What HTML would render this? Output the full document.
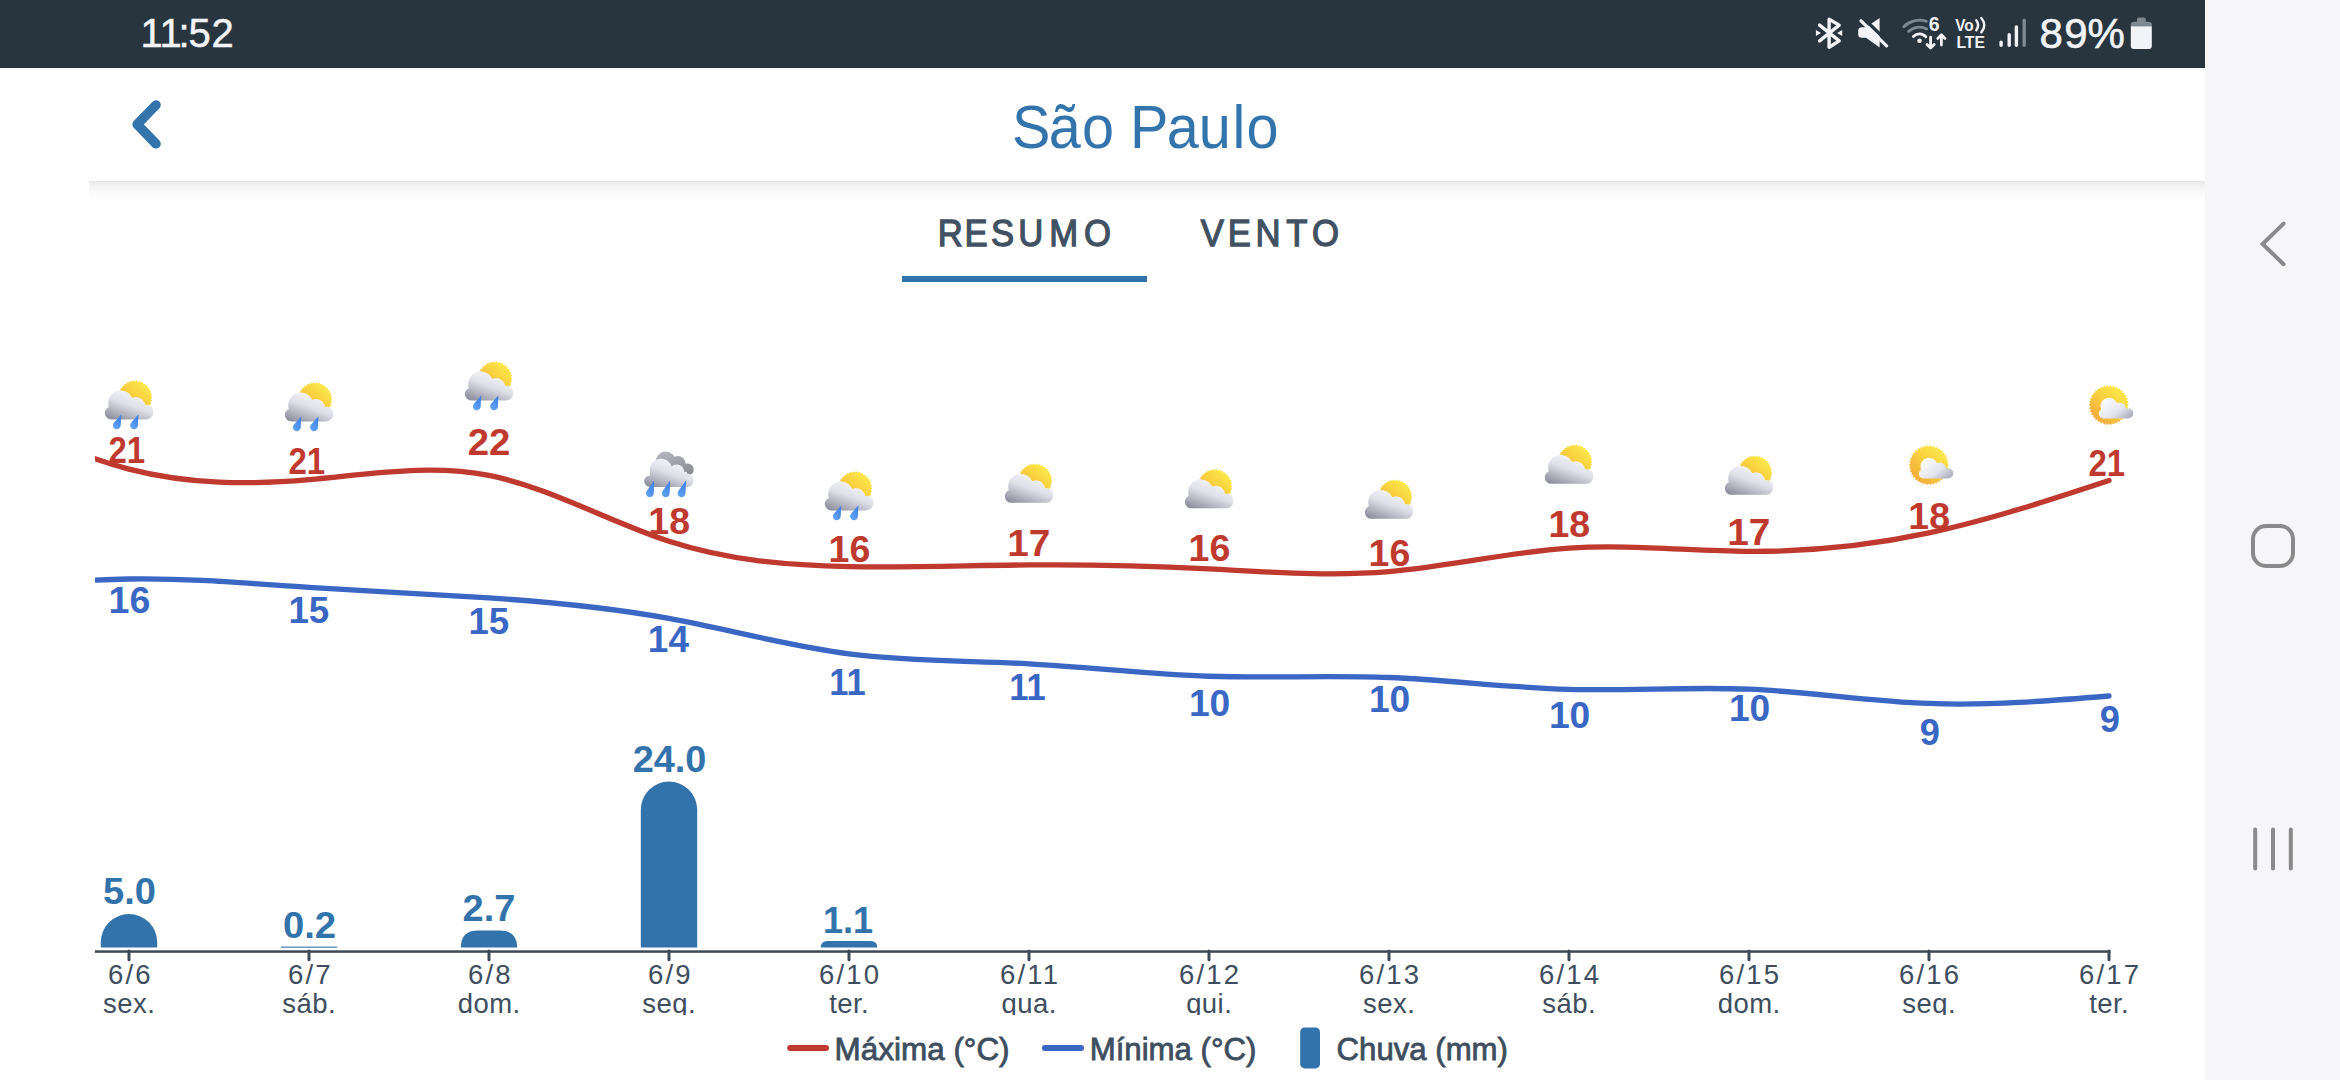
<!DOCTYPE html>
<html lang="pt-BR">
<head>
<meta charset="utf-8">
<title>São Paulo</title>
<style>
html,body{margin:0;padding:0;background:#fff;}
body{width:2340px;height:1080px;position:relative;overflow:hidden;font-family:'Liberation Sans', Arial, sans-serif;}
.status{position:absolute;left:0;top:0;width:2205px;height:68px;background:#28353f;}
.nav{position:absolute;left:2205px;top:0;width:135px;height:1080px;background:#f6f6f8;}
.header{position:absolute;left:0;top:68px;width:2205px;height:113px;background:#fff;}
.shadow{position:absolute;left:89px;top:181px;width:2116px;height:19px;background:linear-gradient(to bottom,#e4e4e4 0px,#ececec 2px,#f3f3f3 5px,#f9f9f9 10px,#ffffff 19px);}
svg.ov{position:absolute;left:0;top:0;}
svg text{font-family:'Liberation Sans', Arial, sans-serif;}
</style>
</head>
<body>
<div class="status"></div>
<div class="nav"></div>
<div class="header"></div>
<div class="shadow"></div>

<svg class="ov" width="2340" height="1080" viewBox="0 0 2340 1080">
<defs>
<linearGradient id="gSun" x1="0.8" y1="0.1" x2="0.15" y2="0.9"><stop offset="0" stop-color="#fbe94a"/><stop offset="0.45" stop-color="#f8cf3e"/><stop offset="1" stop-color="#f3a83a"/></linearGradient>
<linearGradient id="gCloud" x1="0.75" y1="0.1" x2="0.2" y2="1"><stop offset="0" stop-color="#f7f7fb"/><stop offset="0.45" stop-color="#dedfe8"/><stop offset="1" stop-color="#8f919f"/></linearGradient>
<linearGradient id="gCloudS" x1="0.1" y1="0.2" x2="1" y2="0.9"><stop offset="0" stop-color="#fbfbfe"/><stop offset="0.55" stop-color="#e4e5f0"/><stop offset="1" stop-color="#a6a9b6"/></linearGradient>
<linearGradient id="gDark" x1="0.2" y1="0" x2="0.9" y2="1"><stop offset="0" stop-color="#b4b5bf"/><stop offset="1" stop-color="#85878f"/></linearGradient>
<linearGradient id="gDrop" x1="0.8" y1="0" x2="0.2" y2="1"><stop offset="0" stop-color="#3c7de6"/><stop offset="1" stop-color="#62a4f4"/></linearGradient>
<clipPath id="clipChart"><rect x="95" y="300" width="2040" height="660"/></clipPath>

<g id="icA"><polygon points="53.30,22.50 51.93,23.98 53.01,25.68 51.39,26.88 52.13,28.75 50.32,29.63 50.71,31.61 48.77,32.14 48.78,34.15 46.78,34.32 46.43,36.31 44.42,36.10 43.71,37.99 41.78,37.42 40.73,39.14 38.94,38.23 37.60,39.73 36.00,38.50 34.40,39.73 33.06,38.23 31.27,39.14 30.22,37.42 28.29,37.99 27.58,36.10 25.57,36.31 25.22,34.32 23.22,34.15 23.23,32.14 21.29,31.61 21.68,29.63 19.87,28.75 20.61,26.88 18.99,25.68 20.07,23.98 18.70,22.50 20.07,21.02 18.99,19.32 20.61,18.12 19.87,16.25 21.68,15.37 21.29,13.39 23.23,12.86 23.22,10.85 25.22,10.68 25.57,8.69 27.58,8.90 28.29,7.01 30.22,7.58 31.27,5.86 33.06,6.77 34.40,5.27 36.00,6.50 37.60,5.27 38.94,6.77 40.73,5.86 41.78,7.58 43.71,7.01 44.42,8.90 46.43,8.69 46.78,10.68 48.78,10.85 48.77,12.86 50.71,13.39 50.32,15.37 52.13,16.25 51.39,18.12 53.01,19.32 51.93,21.02" fill="url(#gSun)"/><path d="M9.20,28.20 a12.60,12.60 0 1,1 25.20,0 a12.60,12.60 0 1,1 -25.20,0 Z M27.80,31.20 a9.20,9.20 0 1,1 18.40,0 a9.20,9.20 0 1,1 -18.40,0 Z M39.60,37.10 a7.40,7.40 0 1,1 14.80,0 a7.40,7.40 0 1,1 -14.80,0 Z M5.80,38.00 a6.50,6.50 0 1,1 13.00,0 a6.50,6.50 0 1,1 -13.00,0 Z M12.30,30.20 H47.00 V44.50 H12.30 Z " fill="url(#gCloud)"/><path d="M22.20,39.50 L14.89,47.71 A3.90,3.90 0 1,0 21.70,50.48 Z" fill="url(#gDrop)"/><path d="M39.40,39.20 L32.04,47.76 A3.90,3.90 0 1,0 38.90,50.47 Z" fill="url(#gDrop)"/></g>
<g id="icC"><polygon points="53.30,25.70 51.93,27.18 53.01,28.88 51.39,30.08 52.13,31.95 50.32,32.83 50.71,34.81 48.77,35.34 48.78,37.35 46.78,37.52 46.43,39.51 44.42,39.30 43.71,41.19 41.78,40.62 40.73,42.34 38.94,41.43 37.60,42.93 36.00,41.70 34.40,42.93 33.06,41.43 31.27,42.34 30.22,40.62 28.29,41.19 27.58,39.30 25.57,39.51 25.22,37.52 23.22,37.35 23.23,35.34 21.29,34.81 21.68,32.83 19.87,31.95 20.61,30.08 18.99,28.88 20.07,27.18 18.70,25.70 20.07,24.22 18.99,22.52 20.61,21.32 19.87,19.45 21.68,18.57 21.29,16.59 23.23,16.06 23.22,14.05 25.22,13.88 25.57,11.89 27.58,12.10 28.29,10.21 30.22,10.78 31.27,9.06 33.06,9.97 34.40,8.47 36.00,9.70 37.60,8.47 38.94,9.97 40.73,9.06 41.78,10.78 43.71,10.21 44.42,12.10 46.43,11.89 46.78,13.88 48.78,14.05 48.77,16.06 50.71,16.59 50.32,18.57 52.13,19.45 51.39,21.32 53.01,22.52 51.93,24.22" fill="url(#gSun)"/><path d="M9.20,31.50 a12.60,12.60 0 1,1 25.20,0 a12.60,12.60 0 1,1 -25.20,0 Z M27.80,34.50 a9.20,9.20 0 1,1 18.40,0 a9.20,9.20 0 1,1 -18.40,0 Z M39.60,40.40 a7.40,7.40 0 1,1 14.80,0 a7.40,7.40 0 1,1 -14.80,0 Z M5.80,41.30 a6.50,6.50 0 1,1 13.00,0 a6.50,6.50 0 1,1 -13.00,0 Z M12.30,33.50 H47.00 V47.80 H12.30 Z " fill="url(#gCloud)"/></g>
<g id="icB"><path d="M16.70,16.50 a10.00,10.00 0 1,1 20.00,0 a10.00,10.00 0 1,1 -20.00,0 Z M31.50,18.50 a7.50,7.50 0 1,1 15.00,0 a7.50,7.50 0 1,1 -15.00,0 Z M42.70,24.50 a6.00,6.00 0 1,1 12.00,0 a6.00,6.00 0 1,1 -12.00,0 Z M26.70,18.50 H48.70 V34.00 H26.70 Z " fill="url(#gDark)"/><path d="M10.80,25.00 a11.20,11.20 0 1,1 22.40,0 a11.20,11.20 0 1,1 -22.40,0 Z M30.20,27.00 a7.60,7.60 0 1,1 15.20,0 a7.60,7.60 0 1,1 -15.20,0 Z M41.30,35.30 a6.70,6.70 0 1,1 13.40,0 a6.70,6.70 0 1,1 -13.40,0 Z M5.20,36.20 a5.80,5.80 0 1,1 11.60,0 a5.80,5.80 0 1,1 -11.60,0 Z M11.00,27.00 H48.00 V42.00 H11.00 Z " fill="url(#gCloud)"/><path d="M15.20,35.50 L7.63,46.02 A3.90,3.90 0 1,0 14.70,48.45 Z" fill="url(#gDrop)"/><path d="M31.20,35.50 L23.55,46.00 A3.90,3.90 0 1,0 30.60,48.48 Z" fill="url(#gDrop)"/><path d="M47.20,35.00 L39.33,46.03 A3.90,3.90 0 1,0 46.39,48.53 Z" fill="url(#gDrop)"/></g>
<g id="icD"><polygon points="48.00,30.10 46.24,31.62 47.73,33.41 45.74,34.62 46.91,36.63 44.75,37.49 45.58,39.67 43.30,40.16 43.76,42.45 41.44,42.56 41.51,44.89 39.20,44.62 38.89,46.93 36.66,46.28 35.97,48.51 33.87,47.50 32.83,49.58 30.93,48.25 29.56,50.13 27.90,48.50 26.24,50.13 24.87,48.25 22.97,49.58 21.93,47.50 19.83,48.51 19.14,46.28 16.91,46.93 16.60,44.62 14.29,44.89 14.36,42.56 12.04,42.45 12.50,40.16 10.22,39.67 11.05,37.49 8.89,36.63 10.06,34.62 8.07,33.41 9.56,31.62 7.80,30.10 9.56,28.58 8.07,26.79 10.06,25.58 8.89,23.57 11.05,22.71 10.22,20.53 12.50,20.04 12.04,17.75 14.36,17.64 14.29,15.31 16.60,15.58 16.91,13.27 19.14,13.92 19.83,11.69 21.93,12.70 22.97,10.62 24.87,11.95 26.24,10.07 27.90,11.70 29.56,10.07 30.93,11.95 32.83,10.62 33.87,12.70 35.97,11.69 36.66,13.92 38.89,13.27 39.20,15.58 41.51,15.31 41.44,17.64 43.76,17.75 43.30,20.04 45.58,20.53 44.75,22.71 46.91,23.57 45.74,25.58 47.73,26.79 46.24,28.58" fill="url(#gSun)"/><path d="M19.40,31.30 a8.60,8.60 0 1,1 17.20,0 a8.60,8.60 0 1,1 -17.20,0 Z M31.90,34.00 a6.60,6.60 0 1,1 13.20,0 a6.60,6.60 0 1,1 -13.20,0 Z M42.30,38.30 a5.00,5.00 0 1,1 10.00,0 a5.00,5.00 0 1,1 -10.00,0 Z M17.80,38.80 a4.70,4.70 0 1,1 9.40,0 a4.70,4.70 0 1,1 -9.40,0 Z M22.50,33.30 H47.30 V43.50 H22.50 Z " fill="url(#gCloudS)"/></g>
</defs>
<g id="statusbar" fill="#f1f3f7">
<text id="tTime" x="140.6 159.4 178.4 188.6 211.4" y="47.2" font-size="40" stroke="#f1f3f7" stroke-width="0.5">11:52</text>
<g stroke="#f1f3f7" stroke-width="3.4" fill="none" stroke-linecap="round" stroke-linejoin="round"><path d="M1819.6,25.1 L1839.2,40.9 L1829.1,47.2 L1829.1,19.2 L1839.2,25.1 L1819.6,40.9"/></g>
<path d="M1815.9,29.9 L1821,33 L1815.9,36.1 Z M1842.2,29.9 L1837.1,33 L1842.2,36.1 Z"/>
<path d="M1861.7,27.2 H1866 L1879.6,18 V47.4 L1866,37.8 H1861.7 Q1858.2,37.8 1858.2,34.3 V30.7 Q1858.2,27.2 1861.7,27.2 Z"/>
<path d="M1863.6,18.2 L1889.4,43.4" stroke="#28353f" stroke-width="3.4" fill="none"/>
<path d="M1861,20.8 L1886.6,45.8" stroke="#f1f3f7" stroke-width="3.2" fill="none" stroke-linecap="round"/>
<g fill="none" stroke-linecap="round" stroke-width="2.8">
<path d="M1903.73,26.73 A22.30,22.30 0 0,1 1926.39,21.29" stroke="#7d8891"/>
<path d="M1908.61,31.61 A15.40,15.40 0 0,1 1926.73,28.90" stroke="#7d8891"/>
<path d="M1913.42,36.42 A8.60,8.60 0 0,1 1925.89,36.75" stroke="#f1f3f7"/>
</g>
<circle cx="1919.5" cy="40.8" r="2.3"/>
<text x="1934.3" y="31.2" font-size="19.5" font-weight="bold" text-anchor="middle">6</text>
<g fill="none" stroke="#f1f3f7" stroke-width="2.8" stroke-linecap="round" stroke-linejoin="round"><path d="M1930.6,37.2 V47.8 M1927,44.4 L1930.6,48 L1934.2,44.4"/><path d="M1941.4,45 V35 M1937.8,38.4 L1941.4,34.8 L1945,38.4"/></g>
<text x="1955.2" y="30.6" font-size="17.2" font-weight="bold" textLength="18.5" lengthAdjust="spacingAndGlyphs">Vo</text>
<g fill="none" stroke="#f1f3f7" stroke-width="2.4" stroke-linecap="round"><path d="M1976.3,20.2 Q1980,25.2 1976.3,30.2"/><path d="M1981.3,18 Q1987.4,25.2 1981.3,32.4"/></g>
<text x="1956.4" y="47.8" font-size="17.2" font-weight="bold" textLength="28.6" lengthAdjust="spacingAndGlyphs">LTE</text>
<g stroke-linecap="round" stroke-width="3.4" fill="none"><path d="M2001.1,42.3 V45.2" stroke="#f1f3f7"/><path d="M2009.2,34.8 V45.2" stroke="#f1f3f7"/><path d="M2016.4,27 V45.2" stroke="#f1f3f7"/><path d="M2024.2,20.2 V45.2" stroke="#7d8891"/></g>
<text id="tBat" x="2039.6 2064.2 2087.6" y="47.6" font-size="42" stroke="#f1f3f7" stroke-width="0.6">89%</text>
<path d="M2137,21.8 V19.6 Q2137,17.6 2139,17.6 H2143.8 Q2145.8,17.6 2145.8,19.6 V21.8 H2148.8 Q2151.8,21.8 2151.8,24.8 V26.2 H2130.8 V24.8 Q2130.8,21.8 2133.8,21.8 Z" fill="#7d8891"/>
<path d="M2130.8,26.2 H2151.8 V46 Q2151.8,49 2148.8,49 H2133.8 Q2130.8,49 2130.8,46 Z"/>
</g>
<path d="M156,105 L137.2,124.4 L156,143.8" fill="none" stroke="#3374ac" stroke-width="9.6" stroke-linecap="round" stroke-linejoin="round"/>
<text id="tTitle" x="1080.70 1119.77 1155.40 1187.44 1206.58 1245.78 1279.96 1316.05 1331.00" y="148.1" font-size="61.5" fill="#3374ac" transform="scale(0.9365 1)">São Paulo</text>
<g fill="#415163" stroke="#415163" stroke-width="1.3" font-size="37.3">
<text id="tTab1" x="1008.44 1037.16 1065.71 1094.97 1128.34 1165.70" y="246.2" transform="scale(0.93 1)">RESUMO</text>
<text id="tTab2" x="1291.24 1320.07 1349.96 1383.03 1410.86" y="246.2" transform="scale(0.93 1)">VENTO</text>
</g>
<rect x="902" y="276" width="245" height="6" fill="#3273ab"/>
<g id="chart">
<path d="M100.8,947.6 V942.2 A28.2,28.2 0 0,1 157.2,942.2 V947.6 Z" fill="#3273ab"/>
<rect x="280.8" y="946.6" width="56.4" height="1.1" fill="#3273ab"/>
<path d="M460.8,947.6 V947.6 Q460.8,930.4 478.0,930.4 H500.0 Q517.2,930.4 517.2,947.6 V947.6 Z" fill="#3273ab"/>
<path d="M640.8,947.6 V809.7 A28.2,28.2 0 0,1 697.2,809.7 V947.6 Z" fill="#3273ab"/>
<path d="M820.8,947.6 V947.6 Q820.8,941.1 827.3,941.1 H870.7 Q877.2,941.1 877.2,947.6 V947.6 Z" fill="#3273ab"/>
<rect x="95" y="950.3" width="2015.5" height="2.5" fill="#3c4957"/>
<path d="M129.0,951 V959.8" stroke="#3c4957" stroke-width="3" stroke-linecap="round" fill="none"/>
<path d="M309.0,951 V959.8" stroke="#3c4957" stroke-width="3" stroke-linecap="round" fill="none"/>
<path d="M489.0,951 V959.8" stroke="#3c4957" stroke-width="3" stroke-linecap="round" fill="none"/>
<path d="M669.0,951 V959.8" stroke="#3c4957" stroke-width="3" stroke-linecap="round" fill="none"/>
<path d="M849.0,951 V959.8" stroke="#3c4957" stroke-width="3" stroke-linecap="round" fill="none"/>
<path d="M1029.0,951 V959.8" stroke="#3c4957" stroke-width="3" stroke-linecap="round" fill="none"/>
<path d="M1209.0,951 V959.8" stroke="#3c4957" stroke-width="3" stroke-linecap="round" fill="none"/>
<path d="M1389.0,951 V959.8" stroke="#3c4957" stroke-width="3" stroke-linecap="round" fill="none"/>
<path d="M1569.0,951 V959.8" stroke="#3c4957" stroke-width="3" stroke-linecap="round" fill="none"/>
<path d="M1749.0,951 V959.8" stroke="#3c4957" stroke-width="3" stroke-linecap="round" fill="none"/>
<path d="M1929.0,951 V959.8" stroke="#3c4957" stroke-width="3" stroke-linecap="round" fill="none"/>
<path d="M2109.0,951 V959.8" stroke="#3c4957" stroke-width="3" stroke-linecap="round" fill="none"/>
<g clip-path="url(#clipChart)" fill="none" stroke-width="5.3" stroke-linecap="round" stroke-linejoin="round">
<path d="M-51.00,392.15 C9.00,422.90 69.00,453.64 129.00,469.14 C189.00,484.64 249.00,484.89 309.00,479.63 C369.00,474.37 429.00,463.60 489.00,475.43 C549.00,487.26 609.00,521.71 669.00,541.25 C729.00,560.79 789.00,565.43 849.00,566.58 C909.00,567.72 969.00,565.37 1029.00,564.89 C1089.00,564.41 1149.00,565.81 1209.00,568.86 C1269.00,571.91 1329.00,576.62 1389.00,571.66 C1449.00,566.70 1509.00,552.07 1569.00,548.14 C1629.00,544.20 1689.00,550.97 1749.00,551.37 C1809.00,551.77 1869.00,545.82 1929.00,532.95 C1989.00,520.08 2049.00,500.31 2109.00,480.53" stroke="#c0392f"/>
<path d="M-51.00,594.69 C9.00,587.33 69.00,579.97 129.00,579.00 C189.00,578.02 249.00,583.43 309.00,587.40 C369.00,591.37 429.00,593.90 489.00,597.91 C549.00,601.93 609.00,607.42 669.00,618.46 C729.00,629.50 789.00,646.07 849.00,653.86 C909.00,661.65 969.00,660.65 1029.00,663.78 C1089.00,666.91 1149.00,674.16 1209.00,676.23 C1269.00,678.30 1329.00,675.18 1389.00,677.52 C1449.00,679.87 1509.00,687.68 1569.00,689.38 C1629.00,691.08 1689.00,686.68 1749.00,689.20 C1809.00,691.72 1869.00,701.18 1929.00,703.46 C1989.00,705.75 2049.00,700.87 2109.00,695.99" stroke="#3a66c4"/>
</g>
<use href="#icA" x="99.0" y="375.0"/>
<use href="#icA" x="279.0" y="377.0"/>
<use href="#icA" x="459.0" y="356.0"/>
<use href="#icB" x="639.0" y="445.0"/>
<use href="#icA" x="819.0" y="466.0"/>
<use href="#icC" x="999.0" y="455.0"/>
<use href="#icC" x="1179.0" y="460.5"/>
<use href="#icC" x="1359.0" y="471.0"/>
<use href="#icC" x="1539.0" y="436.0"/>
<use href="#icC" x="1719.0" y="447.0"/>
<use href="#icD" x="1901.0" y="435.0"/>
<use href="#icD" x="2081.0" y="375.0"/>
<g font-size="36.5" font-weight="bold" text-anchor="middle">
<g fill="#c0392f">
<text x="126.77" y="462.8" transform="translate(126.77 0) scale(0.9044 1) translate(-126.77 0)">21</text>
<text x="306.77" y="473.8" transform="translate(306.77 0) scale(0.9044 1) translate(-306.77 0)">21</text>
<text x="488.98" y="455.5" transform="translate(488.98 0) scale(1.0515 1) translate(-488.98 0)">22</text>
<text x="669.21" y="533.6" transform="translate(669.21 0) scale(1.0260 1) translate(-669.21 0)">18</text>
<text x="849.50" y="561.8" transform="translate(849.50 0) scale(1.0285 1) translate(-849.50 0)">16</text>
<text x="1028.80" y="556.5" transform="translate(1028.80 0) scale(1.0648 1) translate(-1028.80 0)">17</text>
<text x="1209.50" y="561.4" transform="translate(1209.50 0) scale(1.0285 1) translate(-1209.50 0)">16</text>
<text x="1389.50" y="566.4" transform="translate(1389.50 0) scale(1.0285 1) translate(-1389.50 0)">16</text>
<text x="1569.21" y="536.9" transform="translate(1569.21 0) scale(1.0260 1) translate(-1569.21 0)">18</text>
<text x="1748.80" y="544.8" transform="translate(1748.80 0) scale(1.0648 1) translate(-1748.80 0)">17</text>
<text x="1929.21" y="528.8" transform="translate(1929.21 0) scale(1.0260 1) translate(-1929.21 0)">18</text>
<text x="2106.77" y="475.8" transform="translate(2106.77 0) scale(0.9044 1) translate(-2106.77 0)">21</text>
</g>
<g fill="#3a66c4">
<text x="129.50" y="612.8" transform="translate(129.50 0) scale(1.0285 1) translate(-129.50 0)">16</text>
<text x="308.86" y="622.8" transform="translate(308.86 0) scale(1.0064 1) translate(-308.86 0)">15</text>
<text x="488.86" y="633.8" transform="translate(488.86 0) scale(1.0064 1) translate(-488.86 0)">15</text>
<text x="668.40" y="652.2" transform="translate(668.40 0) scale(1.0118 1) translate(-668.40 0)">14</text>
<text x="847.37" y="695.5" transform="translate(847.37 0) scale(0.9455 1) translate(-847.37 0)">11</text>
<text x="1027.37" y="700.3" transform="translate(1027.37 0) scale(0.9455 1) translate(-1027.37 0)">11</text>
<text x="1209.59" y="715.6" transform="translate(1209.59 0) scale(1.0192 1) translate(-1209.59 0)">10</text>
<text x="1389.59" y="711.8" transform="translate(1389.59 0) scale(1.0192 1) translate(-1389.59 0)">10</text>
<text x="1569.59" y="727.8" transform="translate(1569.59 0) scale(1.0192 1) translate(-1569.59 0)">10</text>
<text x="1749.59" y="721.4" transform="translate(1749.59 0) scale(1.0192 1) translate(-1749.59 0)">10</text>
<text x="1929.90" y="744.8" transform="translate(1929.90 0) scale(0.9950 1) translate(-1929.90 0)">9</text>
<text x="2109.90" y="731.8" transform="translate(2109.90 0) scale(0.9950 1) translate(-2109.90 0)">9</text>
</g>
<g fill="#3273ab">
<text x="129.50" y="904.4" transform="translate(129.50 0) scale(1.0442 1) translate(-129.50 0)">5.0</text>
<text x="309.52" y="937.8" transform="translate(309.52 0) scale(1.0485 1) translate(-309.52 0)">0.2</text>
<text x="489.00" y="920.9" transform="translate(489.00 0) scale(1.0406 1) translate(-489.00 0)">2.7</text>
<text x="669.52" y="771.6" transform="translate(669.52 0) scale(1.0376 1) translate(-669.52 0)">24.0</text>
<text x="847.99" y="932.6" transform="translate(847.99 0) scale(0.9890 1) translate(-847.99 0)">1.1</text>
</g>
</g>
<clipPath id="clipAxis"><rect x="0" y="955" width="2205" height="60"/></clipPath>
<g font-size="27.5" fill="#3e4e5e" text-anchor="middle" clip-path="url(#clipAxis)">
<text x="130.4" y="983.7" letter-spacing="2.2">6/6</text>
<text x="129.2" y="1012.8" letter-spacing="0.45">sex.</text>
<text x="310.4" y="983.7" letter-spacing="2.2">6/7</text>
<text x="309.2" y="1012.8" letter-spacing="0.45">sáb.</text>
<text x="490.4" y="983.7" letter-spacing="2.2">6/8</text>
<text x="489.2" y="1012.8" letter-spacing="0.45">dom.</text>
<text x="670.4" y="983.7" letter-spacing="2.2">6/9</text>
<text x="669.2" y="1012.8" letter-spacing="0.45">seg.</text>
<text x="850.1" y="983.7" letter-spacing="2.2">6/10</text>
<text x="849.2" y="1012.8" letter-spacing="0.45">ter.</text>
<text x="1030.1" y="983.7" letter-spacing="2.2">6/11</text>
<text x="1029.2" y="1012.8" letter-spacing="0.45">qua.</text>
<text x="1210.1" y="983.7" letter-spacing="2.2">6/12</text>
<text x="1209.2" y="1012.8" letter-spacing="0.45">qui.</text>
<text x="1390.1" y="983.7" letter-spacing="2.2">6/13</text>
<text x="1389.2" y="1012.8" letter-spacing="0.45">sex.</text>
<text x="1570.1" y="983.7" letter-spacing="2.2">6/14</text>
<text x="1569.2" y="1012.8" letter-spacing="0.45">sáb.</text>
<text x="1750.1" y="983.7" letter-spacing="2.2">6/15</text>
<text x="1749.2" y="1012.8" letter-spacing="0.45">dom.</text>
<text x="1930.1" y="983.7" letter-spacing="2.2">6/16</text>
<text x="1929.2" y="1012.8" letter-spacing="0.45">seg.</text>
<text x="2110.1" y="983.7" letter-spacing="2.2">6/17</text>
<text x="2109.2" y="1012.8" letter-spacing="0.45">ter.</text>
</g>
</g>
<g id="legend">
<path d="M790.2,1048 H826" stroke="#c0392f" stroke-width="6" stroke-linecap="round"/>
<path d="M1045,1048 H1081" stroke="#3a66c4" stroke-width="6" stroke-linecap="round"/>
<rect x="1300.2" y="1027.4" width="19.8" height="41" rx="4.5" fill="#3273ab"/>
<g font-size="31" fill="#3e4e5e" stroke="#3e4e5e" stroke-width="0.8">
<text id="tL1" x="834.6" y="1059.6" textLength="175" lengthAdjust="spacingAndGlyphs">Máxima (°C)</text>
<text id="tL2" x="1089.7" y="1059.6" textLength="166.6" lengthAdjust="spacingAndGlyphs">Mínima (°C)</text>
<text id="tL3" x="1336.6" y="1059.6" textLength="171.3" lengthAdjust="spacingAndGlyphs">Chuva (mm)</text>
</g></g>
<g fill="none" stroke="#8a8a8a" stroke-width="4" stroke-linecap="round">
<path d="M2283.6,223.6 L2262.6,244 L2283.6,264.2" stroke-linejoin="miter"/>
<rect x="2253" y="526" width="40" height="40" rx="13"/>
<path d="M2255.2,829.6 V868.4 M2273,829.6 V868.4 M2290.8,829.6 V868.4"/>
</g>
</svg>
</body></html>
